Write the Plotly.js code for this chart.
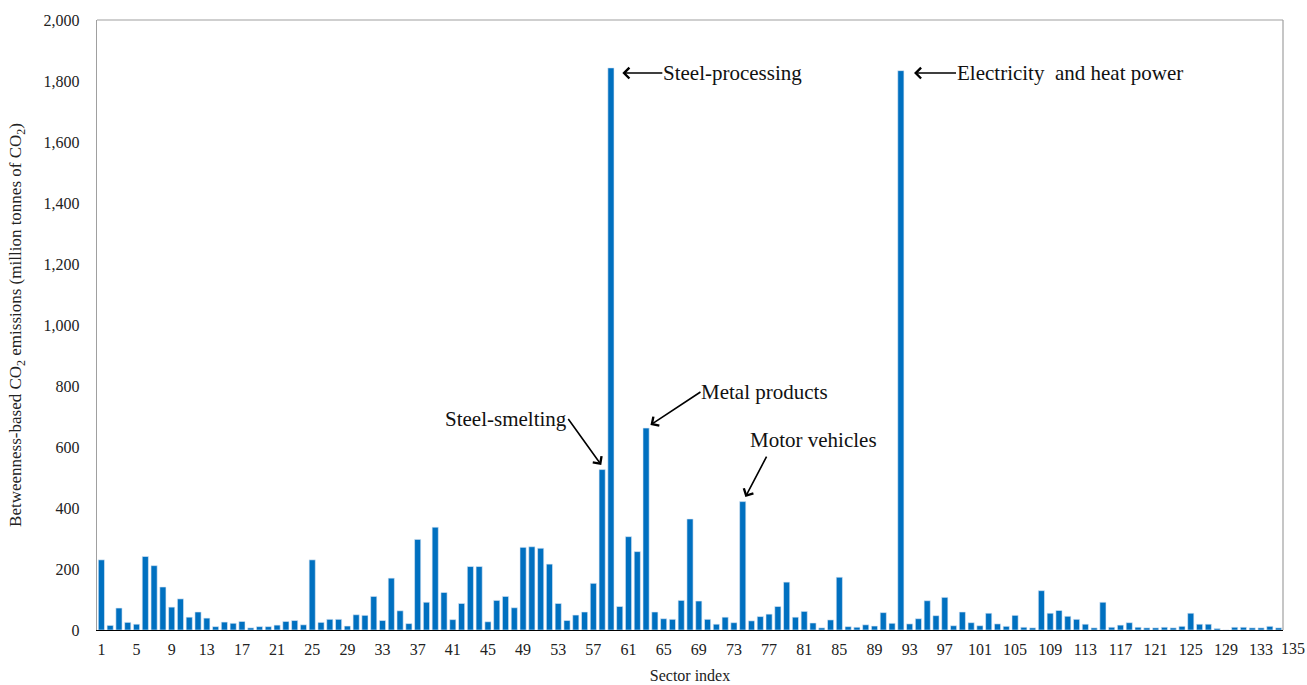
<!DOCTYPE html>
<html>
<head>
<meta charset="utf-8">
<script src="https://cdn.plot.ly/plotly-3.0.1.min.js"></script>
<style>html,body{margin:0;padding:0;background:#fff;}#chart{width:1307px;height:685px;}</style>
</head>
<body>
<div id="chart"></div>
<script>
const sectorIndex = Array.from({length: 135}, (_, i) => i + 1);
const emissions = [
  230, 15, 72, 25, 19, 241, 211, 141, 75, 102,
  42, 59, 39, 11, 26, 22, 28, 7, 11, 11,
  16, 28, 31, 17, 230, 25, 35, 35, 13, 50,
  48, 110, 31, 170, 63, 21, 297, 91, 337, 123,
  34, 87, 208, 208, 27, 97, 110, 73, 271, 273,
  268, 216, 87, 31, 49, 59, 153, 526, 1843, 77,
  306, 257, 662, 59, 37, 35, 97, 364, 95, 35,
  19, 42, 24, 421, 30, 44, 52, 77, 157, 42,
  61, 23, 7, 33, 173, 11, 9, 17, 13, 57,
  22, 1834, 20, 37, 96, 47, 107, 14, 59, 24,
  14, 55, 20, 12, 48, 9, 7, 129, 55, 64,
  45, 35, 19, 7, 91, 9, 16, 24, 9, 7,
  7, 9, 7, 12, 55, 19, 19, 5, 0, 9,
  9, 7, 7, 12, 7
];
const xTickVals = [1,5,9,13,17,21,25,29,33,37,41,45,49,53,57,61,65,69,73,77,81,85,89,93,97,101,105,109,113,117,121,125,129,133];
const xTickText = xTickVals.map(String);
const lastTickLabel = "135";
const yTickVals = [0,200,400,600,800,1000,1200,1400,1600,1800,2000];
const labelNames = ["Steel-smelting", "Steel-processing", "Metal products", "Motor vehicles", "Electricity&nbsp; and heat power"];

const font = "Liberation Serif, Times New Roman, serif";
const annSize = 21;

const trace = {
  type: 'bar',
  x: sectorIndex,
  y: emissions,
  marker: {color: '#0070C0', line: {color: '#dfeaf5', width: 0.6}},
  hoverinfo: 'x+y'
};

function labelArrow(x, y, ax, ay, text, xanchor, yanchor) {
  return {x: x, y: y, xref: 'x', yref: 'y', ax: ax, ay: ay, text: text, showarrow: true,
    xanchor: xanchor, yanchor: yanchor, borderpad: 0,
    arrowhead: 4, arrowsize: 1.3, arrowwidth: 1.6, arrowcolor: '#000',
    font: {family: font, size: annSize, color: '#111'}};
}
function arrow(x, y, ax, ay) {
  return {x: x, y: y, xref: 'x', yref: 'y', ax: ax, ay: ay, text: '', showarrow: true,
    arrowhead: 4, arrowsize: 1.3, arrowwidth: 1.6, arrowcolor: '#000', font: {size: 1}};
}
function label(x, y, text, xanchor) {
  return {x: x, y: y, xref: 'x', yref: 'y', text: text, showarrow: false, xanchor: xanchor, yanchor: 'middle',
    font: {family: font, size: annSize, color: '#111'}};
}

const layout = {
  width: 1307, height: 685,
  margin: {l: 97, r: 24, t: 20, b: 55},
  paper_bgcolor: '#fff', plot_bgcolor: '#fff',
  showlegend: false,
  bargap: 0.3,
  font: {family: font, size: 16, color: '#222'},
  xaxis: {
    range: [0.5, 135.5], tickvals: xTickVals, ticktext: xTickText, tickangle: 0,
    showgrid: false, zeroline: false, showline: true, linecolor: '#000', linewidth: 1.2,
    ticks: '', ticklabelstandoff: 5, tickfont: {family: font, size: 16, color: '#222'},
    title: {text: 'Sector index', font: {family: font, size: 16, color: '#222'}, standoff: 12}
  },
  yaxis: {
    range: [0, 2000], tickvals: yTickVals, tickformat: ',',
    showgrid: false, zeroline: false, showline: true, linecolor: '#a0a0a0', linewidth: 1.2,
    ticks: '', ticklabelstandoff: 13, tickfont: {family: font, size: 16, color: '#222'},
    title: {text: 'Betweenness-based CO<sub>2</sub> emissions (million tonnes of CO<sub>2</sub>)', font: {family: font, size: 17, color: '#222'}, standoff: 17}
  },
  shapes: [
    {type: 'line', xref: 'paper', yref: 'paper', x0: 0, x1: 1, y0: 1, y1: 1, line: {color: '#a0a0a0', width: 1.2}},
    {type: 'line', xref: 'paper', yref: 'paper', x0: 1, x1: 1, y0: 0, y1: 1, line: {color: '#a0a0a0', width: 1.2}}
  ],
  annotations: [
    labelArrow(57.9, 541, -33, -46, labelNames[0], 'right', 'middle'),
    labelArrow(60.3, 1826, 40, 0, labelNames[1], 'left', 'middle'),
    labelArrow(63.5, 672, 50, -33, labelNames[2], 'left', 'middle'),
    arrow(74.3, 436, 22, -42),
    label(74.6, 624, labelNames[3], 'left'),
    labelArrow(93.5, 1826, 42, 0, labelNames[4], 'left', 'middle'),
    {x: 135.5, y: 0, xref: 'x', yref: 'paper', yanchor: 'top', xanchor: 'left', xshift: -4, yshift: -8,
      text: lastTickLabel, showarrow: false, font: {family: font, size: 16, color: '#222'}}
  ]
};

Plotly.newPlot('chart', [trace], layout, {displayModeBar: false, staticPlot: true});
</script>
</body>
</html>
